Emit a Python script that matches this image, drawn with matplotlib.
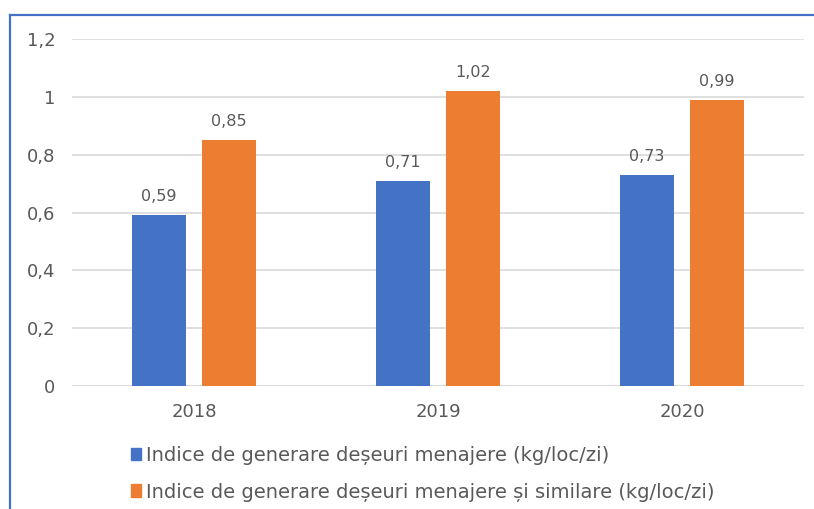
import matplotlib.pyplot as plt
from matplotlib.patches import Patch
from matplotlib.lines import Line2D
from matplotlib.ticker import FuncFormatter
import numpy as np

plt.rcParams['font.family'] = ['DejaVu Sans']

years = ['2018', '2019', '2020']
menajere = [0.59, 0.71, 0.73]
menajere_similare = [0.85, 1.02, 0.99]
series_names = ['Indice de generare deșeuri menajere (kg/loc/zi)',
                'Indice de generare deșeuri menajere și similare (kg/loc/zi)']

blue = '#4472C4'
orange = '#ED7D31'
grey = '#595959'

def comma(v, pos=None):
    s = ('%.2f' % v).rstrip('0').rstrip('.')
    return s.replace('.', ',')

fig = plt.figure(figsize=(8.14, 5.09), dpi=100)
ax = fig.add_axes([72 / 814, 1 - 386 / 509, 732 / 814, 347 / 509])

x = np.arange(len(years))
w = 0.221
off = 0.143
b1 = ax.bar(x - off, menajere, w, color=blue, zorder=3)
b2 = ax.bar(x + off, menajere_similare, w, color=orange, zorder=3)

for bars, vals in ((b1, menajere), (b2, menajere_similare)):
    for r, v in zip(bars, vals):
        ax.annotate(comma(v), (r.get_x() + r.get_width() / 2, v),
                    xytext=(0, 8), textcoords='offset points',
                    ha='center', va='bottom', fontsize=11.5, color=grey)

ax.set_xlim(-0.5, 2.5)
ax.set_ylim(0, 1.2)
ax.set_yticks(np.arange(0, 1.21, 0.2))
ax.yaxis.set_major_formatter(FuncFormatter(comma))
ax.set_xticks(x)
ax.set_xticklabels(years)
ax.grid(axis='y', color='#D9D9D9', linewidth=1.2, zorder=0)
for s in ax.spines.values():
    s.set_visible(False)
ax.axhline(0, color='#D9D9D9', linewidth=1.2, zorder=2)
ax.tick_params(length=0, labelsize=13, colors=grey)
ax.tick_params(axis='y', pad=12)
ax.tick_params(axis='x', pad=12)

handles = [Patch(color=blue), Patch(color=orange)]
fig.legend(handles, series_names, loc='upper left',
           bbox_to_anchor=(131 / 814, 1 - 446 / 509), frameon=False,
           fontsize=14, labelcolor=grey, handlelength=0.52, handleheight=0.62,
           handletextpad=0.25, labelspacing=0.9, borderaxespad=0, borderpad=0)

# blue frame around the chart (cut off at right and bottom)
fig.add_artist(Line2D([10 / 814, 1], [1 - 15 / 509] * 2, color='#4472C4', linewidth=1.6))
fig.add_artist(Line2D([10 / 814] * 2, [0, 1 - 15 / 509], color='#4472C4', linewidth=1.6))

fig.savefig('out.png', dpi=100)
